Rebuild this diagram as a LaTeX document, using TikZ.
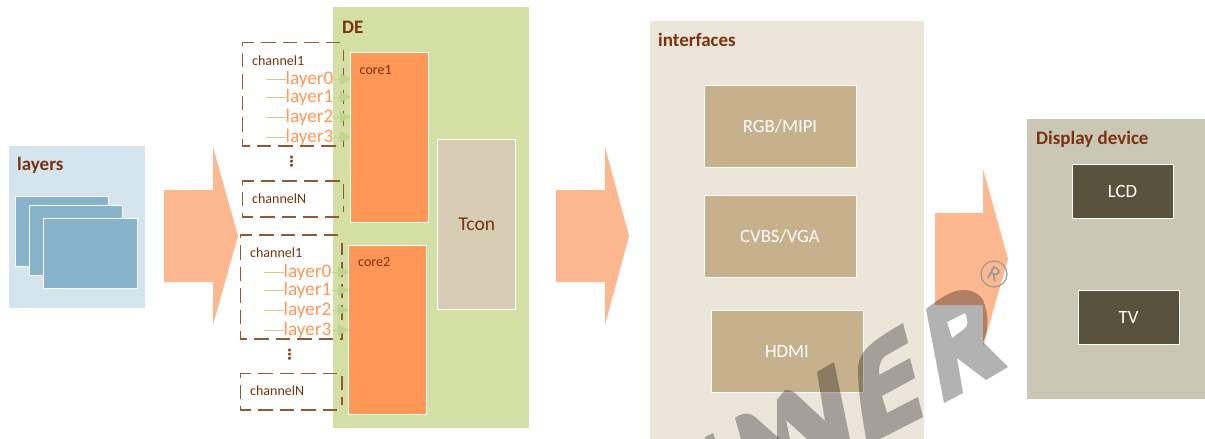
\documentclass[tikz,border=0pt]{standalone}
\usepackage{fontspec}
\setmainfont{Carlito}
\newfontfamily\symfont{DejaVu Sans}
\usetikzlibrary{arrows.meta,positioning,calc}
\definecolor{ttl}{HTML}{7A3210}
\definecolor{dashc}{HTML}{8F5A36}
\definecolor{peach}{HTML}{FEB890}
\definecolor{orng}{HTML}{FE9757}
\definecolor{lgreen}{HTML}{BDD58C}
\definecolor{layersbg}{HTML}{D5E5EE}
\definecolor{sheet}{HTML}{87B4CB}
\definecolor{debg}{HTML}{D3DFA4}
\definecolor{tconbg}{HTML}{D7CCB4}
\definecolor{ifbg}{HTML}{EBE5DA}
\definecolor{ifbox}{HTML}{C6B18C}
\definecolor{dispbg}{HTML}{CBC7B5}
\definecolor{dispbox}{HTML}{59533D}
\tikzset{
 x=1pt,y=-1pt,
 area/.style={draw=white,line width=0.7pt,inner sep=0pt,outer sep=0pt},
 ttlnode/.style={text=ttl,font=\fontsize{19}{19}\selectfont\bfseries,inner sep=0pt,anchor=base west},
 chan/.style={draw=dashc,line width=1.2pt,dash pattern=on 14.5pt off 7pt},
 chanlbl/.style={text=ttl,font=\fontsize{14}{14}\selectfont,inner sep=0pt,anchor=base west},
 corelbl/.style={text=ttl,font=\fontsize{14}{14}\selectfont,inner sep=0pt,anchor=base west},
 lay/.style={text=orng,font=\fontsize{19.2}{18}\selectfont,inner sep=0pt,anchor=west,text height=12pt,text depth=2pt},
 layline/.style={draw=lgreen,line width=1pt},
 layarr/.style={draw=lgreen,line width=1pt,-{Triangle[length=11pt,width=11pt,fill=lgreen]}},
 bigarrow/.style={fill=peach,draw=none},
 water/.style={fill=black,fill opacity=0.3,draw=none,even odd rule},
 whitetxt/.style={text=white,font=\fontsize{18.7}{18}\selectfont,inner sep=0pt},
 dots/.style={text=ttl,font=\fontsize{14}{14}\selectfont\symfont\bfseries,inner sep=0pt},
}
\begin{document}
\begin{tikzpicture}
\useasboundingbox (0,0) rectangle (1205,439);
\clip (0,0) rectangle (1205,439);
\fill[white] (0,0) rectangle (1205,439);
% layers panel
\filldraw[area,fill=layersbg] (8.5,145) rectangle (145.5,308);
\node[ttlnode] (layerstitle) at (17,170) {layers};
\filldraw[area,fill=sheet] (15.5,196.5) rectangle (108,266);
\filldraw[area,fill=sheet] (29.5,205) rectangle (122,275);
\filldraw[area,fill=sheet] (43.5,218.5) rectangle (137,288);
% big arrows
\fill[bigarrow] (164,190) -- (213,190) -- (213,147) -- (238,236) -- (213,325) -- (213,282) -- (164,282) -- cycle;
\fill[bigarrow] (556,190) -- (605,190) -- (605,147) -- (629,236) -- (605,325) -- (605,282) -- (556,282) -- cycle;
\fill[bigarrow] (935,213) -- (983,213) -- (983,169) -- (1008,259) -- (983,347) -- (983,305) -- (935,305) -- cycle;
% DE
\filldraw[area,fill=debg] (332.5,6.5) rectangle (529,428);
\node[ttlnode] (detitle) at (342,33) {DE};
\node[area,fill=orng,minimum width=78pt,minimum height=170pt] (core1) at (389.8,137) {};
\node[area,fill=orng,minimum width=78pt,minimum height=169pt] (core2) at (387.8,329.5) {};
\node[area,fill=tconbg,minimum width=78pt,minimum height=170pt,text=ttl,font=\fontsize{19.5}{18}\selectfont] (tcon) at (476.8,224) {Tcon};
\node[corelbl] (c1lbl) at (359.5,74) {core1};
\node[corelbl] (c2lbl) at (358,266) {core2};
% channels 1
\draw[chan] (340,42.5) -- (242.5,42.5) -- (242.5,146) -- (343.5,146) -- (343.5,50);
\draw[chan] (339,217) -- (242.5,217) -- (242.5,181) -- (343.5,181) -- (343.5,212);
\node[chanlbl] (ch1a) at (252,65) {channel1};
\node[chanlbl] (chNa) at (252,203) {channelN};
\node[dots] (dotsa) at (291.5,162) {⋮};
% channels 2
\draw[chan] (338,235) -- (240.5,235) -- (240.5,339) -- (342,339) -- (342,243);
\draw[chan] (337,410) -- (240.5,410) -- (240.5,373.5) -- (342,373.5) -- (342,405);
\node[chanlbl] (ch1b) at (250,257) {channel1};
\node[chanlbl] (chNb) at (250,395) {channelN};
\node[dots] (dotsb) at (289.5,355) {⋮};
% layers of core 1
\foreach \i/\y in {0/79,1/97,2/117,3/137}{
 \coordinate (sa\i) at (266,\y);
 \node[lay] (la\i) at (285.5,\y) {layer\i};
 \draw[layline] (sa\i) -- (la\i.west);
 \draw[layarr] (la\i.east) -- (la\i.east -| core1.west);
}
% layers of core 2
\foreach \i/\y in {0/272,1/290,2/310,3/330}{
 \coordinate (sb\i) at (264,\y);
 \node[lay] (lb\i) at (283.5,\y) {layer\i};
 \draw[layline] (sb\i) -- (lb\i.west);
 \draw[layarr] (lb\i.east) -- (lb\i.east -| core2.west);
}
% interfaces
\filldraw[area,fill=ifbg] (649.5,20) rectangle (924,445);
\node[ttlnode] (iftitle) at (658,46) {interfaces};
\node[area,fill=ifbox,whitetxt,minimum width=152pt,minimum height=82pt] (rgb) at (780,126) {RGB/MIPI};
\node[area,fill=ifbox,whitetxt,minimum width=152pt,minimum height=82pt] (cvbs) at (780,236) {CVBS/VGA};
\node[area,fill=ifbox,whitetxt,minimum width=152pt,minimum height=82pt] (hdmi) at (787,351) {HDMI};
% display
\filldraw[area,fill=dispbg] (1026.5,118.5) rectangle (1210,399);
\node[ttlnode] (disptitle) at (1036,144) {Display device};
\node[area,fill=dispbox,whitetxt,minimum width=101pt,minimum height=54pt] (lcd) at (1122.5,191) {LCD};
\node[area,fill=dispbox,whitetxt,minimum width=101pt,minimum height=54pt] (tv) at (1128.5,317) {TV};
% watermark
\fill[water] (926,309) .. controls (940,298) and (952,290) .. (963,290) .. controls (975,290) and (983,296) .. (985,306) .. controls (989,318) and (988,332) .. (983,342) -- (1008,367) -- (986,380) -- (957,358) -- (963,393) -- (944,403) -- cycle
 (947,322) -- (965,313) .. controls (969,322) and (968,326) .. (964,329) -- (952,338) -- cycle;
\fill[water] (903,323) -- (908,343) -- (885,356) .. controls (880,360) and (879,366) .. (879,375) -- (910,358) -- (915,378) -- (882,396) -- (887,413) -- (918,397) -- (923,417) -- (880,439) -- (866,439) .. controls (862,415) and (858,390) .. (858,370) .. controls (858,352) and (870,342) .. cycle;
\fill[water] (777,400) -- (785,390) .. controls (790,390) and (793,391) .. (796,394) -- (825,421) -- (817,372) -- (834,362) -- (850,439) -- (807,439) -- (786,420) -- (790,439) -- (777,439) -- cycle;
\fill[water] (735,418) .. controls (740,414) and (748,411) .. (755,417) -- (780,439) -- (741,439) -- cycle;
\fill[water] (705,437) -- (713,433) -- (715,439) -- (705,439) -- cycle;
% registered mark
\draw[draw=black!40,line width=1.2pt] (994,274) circle (13pt);
\node[text=black!40,font=\fontsize{21}{21}\selectfont,rotate=-28,inner sep=0pt] (regmark) at (994,274) {R};
\end{tikzpicture}
\end{document}
